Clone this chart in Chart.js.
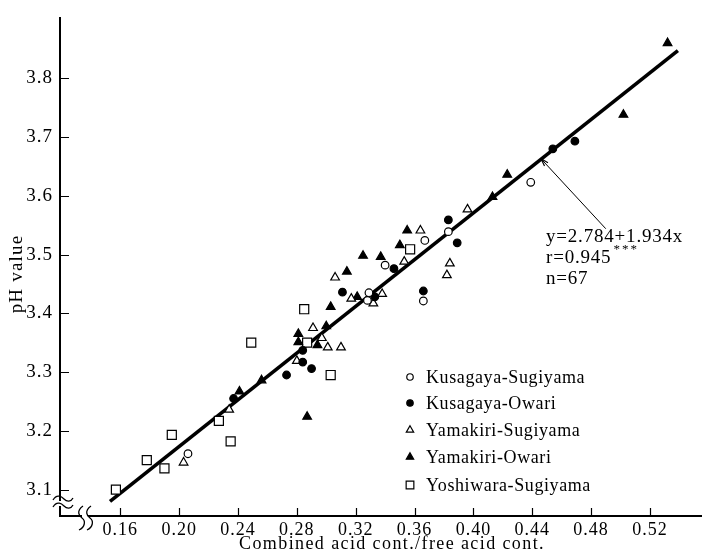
<!DOCTYPE html>
<html>
<head>
<meta charset="utf-8">
<script src="https://cdn.jsdelivr.net/npm/chart.js@4.4.1/dist/chart.umd.min.js"></script>
<style>
  html, body { margin: 0; padding: 0; background: #fff; }
  #wrap { width: 709px; height: 560px; }
</style>
</head>
<body>
<div id="wrap"><canvas id="phChart" width="709" height="560"></canvas></div>
<script>
// values
const ksX = [0.206, 0.329, 0.328, 0.340, 0.367, 0.383, 0.366, 0.439];
const ksY = [3.161, 3.435, 3.422, 3.482, 3.524, 3.539, 3.421, 3.623];

const koX = [0.237, 0.273, 0.284, 0.290, 0.284, 0.311, 0.333, 0.346, 0.383, 0.389, 0.366, 0.454, 0.469];
const koY = [3.255, 3.295, 3.317, 3.306, 3.337, 3.436, 3.428, 3.476, 3.559, 3.520, 3.438, 3.680, 3.693];

const ysX = [0.203, 0.234, 0.280, 0.301, 0.310, 0.291, 0.297, 0.306, 0.317, 0.332, 0.338, 0.353, 0.364, 0.384, 0.382, 0.396];
const ysY = [3.146, 3.236, 3.319, 3.342, 3.342, 3.375, 3.358, 3.461, 3.425, 3.417, 3.433, 3.488, 3.541, 3.485, 3.465, 3.577];

const yoX = [0.241, 0.256, 0.287, 0.281, 0.281, 0.294, 0.300, 0.303, 0.314, 0.321, 0.325, 0.337, 0.350, 0.355, 0.413, 0.423, 0.502, 0.532];
const yoY = [3.267, 3.286, 3.224, 3.351, 3.365, 3.346, 3.378, 3.411, 3.471, 3.428, 3.498, 3.496, 3.516, 3.541, 3.598, 3.636, 3.738, 3.860];

const wsX = [0.157, 0.178, 0.190, 0.195, 0.227, 0.235, 0.249, 0.303, 0.287, 0.285, 0.357];
const wsY = [3.100, 3.150, 3.136, 3.193, 3.217, 3.182, 3.350, 3.295, 3.350, 3.407, 3.509];

// regression line end points and the leader line to the equation
const fitX = [0.153, 0.539];
const fitY = [3.080, 3.847];
const leadX = [0.446, 0.490];
const leadY = [3.663, 3.544];

const xTicks = [0.16, 0.20, 0.24, 0.28, 0.32, 0.36, 0.40, 0.44, 0.48, 0.52];
const yTicks = [3.1, 3.2, 3.3, 3.4, 3.5, 3.6, 3.7, 3.8];

const seriesNames = ['Kusagaya-Sugiyama', 'Kusagaya-Owari', 'Yamakiri-Sugiyama', 'Yamakiri-Owari', 'Yoshiwara-Sugiyama'];
const eqLines = ['y=2.784+1.934x', 'r=0.945', 'n=67'];
const xTitle = 'Combined acid cont./free acid cont.';
const yTitle = 'pH value';

const FONT = '"Liberation Serif", "DejaVu Serif", serif';

function pts(xs, ys) {
    return xs.map((x, i) => ({ x: x, y: ys[i] }));
}

const markers = [
    { style: 'circle', fill: false, r: 3.8 },
    { style: 'circle', fill: true, r: 3.8 },
    { style: 'triangle', fill: false, r: 5 },
    { style: 'triangle', fill: true, r: 5 },
    { style: 'rect', fill: false, r: 6.4 }
];
const seriesData = [pts(ksX, ksY), pts(koX, koY), pts(ysX, ysY), pts(yoX, yoY), pts(wsX, wsY)];

const pointSets = seriesData.map((d, i) => ({
    type: 'scatter',
    label: seriesNames[i],
    data: d,
    pointStyle: markers[i].style,
    pointRadius: markers[i].r,
    pointBorderWidth: 1.2,
    pointBorderColor: '#000',
    pointBackgroundColor: markers[i].fill ? '#000' : '#fff',
    order: 1
}));

function drawMark(ctx, m, x, y) {
    ctx.save();
    ctx.lineWidth = 1.2;
    ctx.strokeStyle = '#000';
    ctx.fillStyle = m.fill ? '#000' : '#fff';
    ctx.beginPath();
    if (m.style === 'circle') {
        ctx.arc(x, y, m.r, 0, Math.PI * 2);
    } else if (m.style === 'triangle') {
        for (let k = 0; k < 3; k++) {
            const a = k * Math.PI * 2 / 3;
            const px = x + Math.sin(a) * m.r, py = y - Math.cos(a) * m.r;
            k === 0 ? ctx.moveTo(px, py) : ctx.lineTo(px, py);
        }
        ctx.closePath();
    } else {
        const s = m.r * Math.SQRT1_2;
        ctx.rect(x - s, y - s, s * 2, s * 2);
    }
    ctx.fill();
    ctx.stroke();
    ctx.restore();
}

const decor = {
    id: 'decor',
    beforeDraw(chart) {
        // the printed figure has loosely spaced digits
        chart.ctx.letterSpacing = '1px';
    },
    afterDraw(chart) {
        const ctx = chart.ctx;
        const xs = chart.scales.x, ys = chart.scales.y;
        const area = chart.chartArea;

        ctx.save();
        ctx.strokeStyle = '#000';
        ctx.lineWidth = 1.2;

        // inward tick marks
        ctx.beginPath();
        xTicks.forEach(v => {
            const p = Math.round(xs.getPixelForValue(v)) + 0.5;
            ctx.moveTo(p, area.bottom);
            ctx.lineTo(p, area.bottom - 8);
        });
        yTicks.forEach(v => {
            const p = Math.round(ys.getPixelForValue(v)) + 0.5;
            ctx.moveTo(area.left, p);
            ctx.lineTo(area.left + 9, p);
        });
        ctx.stroke();

        // small arrow head where the leader meets the fitted line
        const a0x = xs.getPixelForValue(leadX[0]), a0y = ys.getPixelForValue(leadY[0]);
        const a1x = xs.getPixelForValue(leadX[1]), a1y = ys.getPixelForValue(leadY[1]);
        const ang = Math.atan2(a1y - a0y, a1x - a0x);
        ctx.beginPath();
        [-0.3, 0.3].forEach(d => {
            ctx.moveTo(a0x, a0y);
            ctx.lineTo(a0x + Math.cos(ang + d) * 8, a0y + Math.sin(ang + d) * 8);
        });
        ctx.stroke();

        // axis breaks
        ctx.fillStyle = '#fff';
        ctx.fillRect(area.left - 3, 501, 6, 5);
        ctx.fillRect(82, area.bottom - 3, 6, 6);
        ctx.lineWidth = 1.3;
        ctx.beginPath();
        [0, 7].forEach(d => {
            ctx.moveTo(53, 500 + d);
            ctx.bezierCurveTo(57, 493 + d, 62, 497 + d, 64, 499 + d);
            ctx.bezierCurveTo(67, 502 + d, 71, 502 + d, 73, 498 + d);
        });
        [0, 8].forEach(d => {
            ctx.moveTo(83 + d, 506);
            ctx.bezierCurveTo(76 + d, 511, 79 + d, 516, 82 + d, 518);
            ctx.bezierCurveTo(86 + d, 521, 85 + d, 527, 79 + d, 530);
        });
        ctx.stroke();

        ctx.fillStyle = '#000';
        ctx.textBaseline = 'middle';

        // axis titles
        ctx.font = '18px ' + FONT;
        ctx.letterSpacing = '1.4px';
        ctx.textAlign = 'center';
        ctx.fillText(xTitle, 392, 544);
        ctx.save();
        ctx.translate(17, 274);
        ctx.rotate(-Math.PI / 2);
        ctx.font = '19px ' + FONT;
        ctx.letterSpacing = '1.2px';
        ctx.fillText(yTitle, 0, 0);
        ctx.restore();

        // legend
        ctx.font = '18px ' + FONT;
        ctx.textAlign = 'left';
        ctx.letterSpacing = '0.6px';
        const rows = [377, 403, 430, 457, 485];
        seriesNames.forEach((name, i) => {
            const m = Object.assign({}, markers[i], { r: markers[i].r * 0.85 });
            drawMark(ctx, m, 410, rows[i]);
            ctx.fillStyle = '#000';
            ctx.fillText(name, 426, rows[i] + 1);
        });

        // regression equation
        ctx.font = '19px ' + FONT;
        ctx.letterSpacing = '0.8px';
        ctx.fillText(eqLines[0], 546, 237);
        ctx.fillText(eqLines[1], 546, 258);
        const w = ctx.measureText(eqLines[1]).width;
        ctx.font = '13px ' + FONT;
        ctx.letterSpacing = '2px';
        ctx.fillText('***', 546 + w + 2, 250);
        ctx.font = '19px ' + FONT;
        ctx.letterSpacing = '0.8px';
        ctx.fillText(eqLines[2], 546, 279);
        ctx.restore();
    }
};

const ctx = document.getElementById('phChart').getContext('2d');
const chart = new Chart(ctx, {
    type: 'scatter',
    data: {
        datasets: [
            ...pointSets,
            {
                type: 'line',
                label: 'fit',
                data: pts(fitX, fitY),
                borderColor: '#000',
                borderWidth: 3.6,
                pointRadius: 0,
                fill: false,
                order: 10
            },
            {
                type: 'line',
                label: 'leader',
                data: pts(leadX, leadY),
                borderColor: '#000',
                borderWidth: 1,
                pointRadius: 0,
                fill: false,
                order: 10
            }
        ]
    },
    options: {
        responsive: false,
        animation: false,
        layout: { padding: { top: 10, right: 0, left: 0, bottom: 0 } },
        plugins: {
            legend: { display: false },
            tooltip: { enabled: false }
        },
        scales: {
            x: {
                type: 'linear',
                min: 0.119,
                max: 0.555,
                afterBuildTicks: s => { s.ticks = xTicks.map(v => ({ value: v })); },
                afterFit: s => { s.height = 44; },
                grid: { display: false, drawTicks: false },
                border: { display: true, color: '#000', width: 2 },
                ticks: {
                    color: '#000',
                    padding: 3,
                    maxRotation: 0,
                    autoSkip: false,
                    font: { family: FONT, size: 18 },
                    callback: v => v.toFixed(2)
                }
            },
            y: {
                type: 'linear',
                min: 3.055,
                max: 3.902,
                afterBuildTicks: s => { s.ticks = yTicks.map(v => ({ value: v })); },
                afterFit: s => { s.width = 60; },
                grid: { display: false, drawTicks: false },
                border: { display: true, color: '#000', width: 2 },
                ticks: {
                    color: '#000',
                    padding: 7,
                    autoSkip: false,
                    font: { family: FONT, size: 19 },
                    callback: v => v.toFixed(1)
                }
            }
        }
    },
    plugins: [decor]
});
</script>
</body>
</html>
